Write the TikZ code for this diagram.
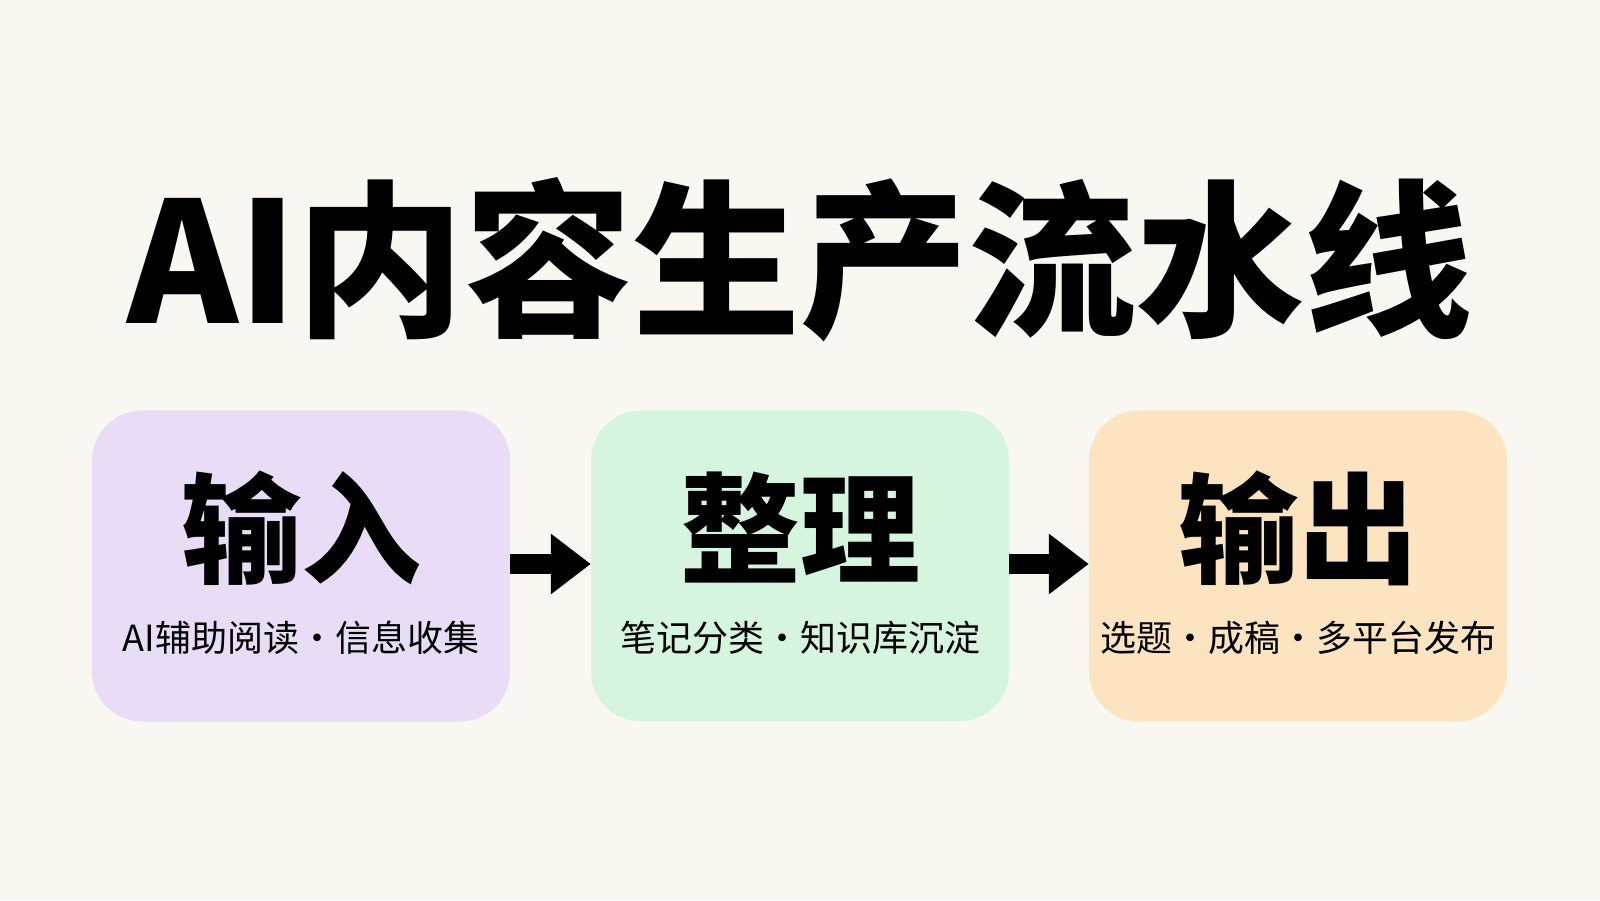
\documentclass[tikz,border=0pt]{standalone}
\usepackage{fontspec}
\setmainfont{Noto Sans CJK SC}
\newfontfamily\cjkb{Noto Sans CJK SC}[FakeBold=0]
\usetikzlibrary{arrows.meta}
\definecolor{bg}{HTML}{F8F7F2}
\definecolor{cA}{HTML}{E9DCF6}
\definecolor{cB}{HTML}{D6F5DF}
\definecolor{cC}{HTML}{FCE4C0}
\tikzset{
 box/.style={rounded corners=50pt,minimum width=418pt,minimum height=311pt,draw=none},
 big/.style={font=\fontsize{120}{120}\selectfont\bfseries},
 sub/.style={font=\fontsize{36}{36}\selectfont},
 arr/.style={line width=20pt,-{Triangle[length=40pt,width=58pt]}}
}
\begin{document}
\begin{tikzpicture}[x=1pt,y=1pt]
\fill[bg] (0,0) rectangle (1600,900);
\useasboundingbox (0,0) rectangle (1600,900);
\node[font=\fontsize{168}{168}\selectfont\bfseries] (title) at (800,640) {AI内容生产流水线};
\node[box,fill=cA] (b1) at (301,334) {};
\node[box,fill=cB] (b2) at (800,334) {};
\node[box,fill=cC] (b3) at (1298,334) {};
\node[big] (t1) at (301,372) {输入};
\node[big] (t2) at (800,372) {整理};
\node[big] (t3) at (1298,372) {输出};
\node[sub] (s1) at (301,262) {AI辅助阅读·信息收集};
\node[sub] (s2) at (800,262) {笔记分类·知识库沉淀};
\node[sub] (s3) at (1298,262) {选题·成稿·多平台发布};
\draw[arr] ([yshift=2pt]b1.east) -- ([yshift=2pt]b2.west);
\draw[arr] ([yshift=2pt]b2.east) -- ([yshift=2pt]b3.west);
\end{tikzpicture}
\end{document}
